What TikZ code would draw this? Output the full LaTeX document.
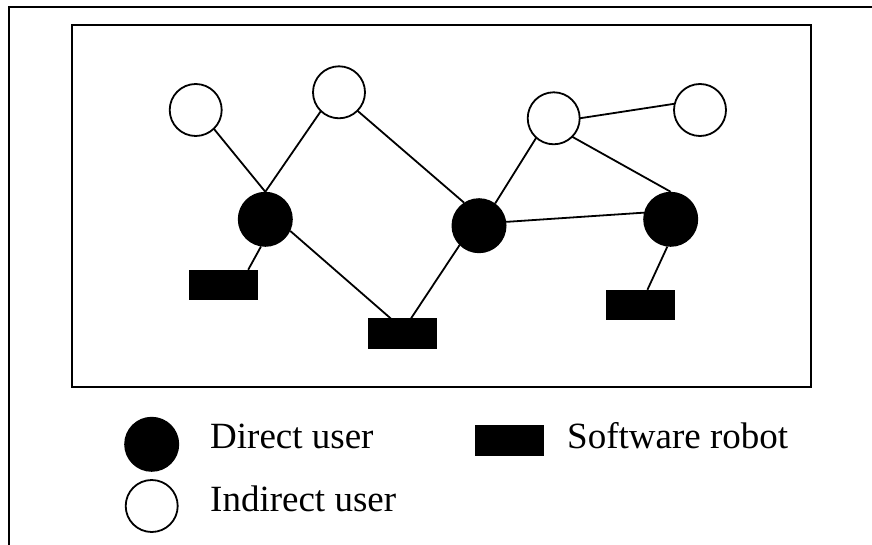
\documentclass[tikz,border=0pt]{standalone}
\usepackage{fontspec}
\setmainfont{Liberation Serif}
\begin{document}
\begin{tikzpicture}[x=1pt,y=-1pt,
  indirect/.style={circle,draw=black,fill=white,line width=1.8pt,minimum size=52pt,inner sep=0pt,outer sep=0pt},
  direct/.style={circle,fill=black,minimum size=55pt,inner sep=0pt,outer sep=0pt},
  robot/.style={rectangle,fill=black,minimum width=69pt,minimum height=30.5pt,inner sep=0pt,outer sep=0pt},
  link/.style={line width=1.8pt},
  frame/.style={line width=2.2pt},
  lbl/.style={anchor=base west,inner sep=0pt,font=\fontsize{37}{44}\selectfont}]
\useasboundingbox (0,0) rectangle (872,545);
% frames
\draw[frame] (872,7) -- (9,7) -- (9,545);
\draw[frame] (72,25) rectangle (811,387);
% nodes
\node[indirect] (I1) at (195.7,110) {};
\node[indirect] (I2) at (339,92.3) {};
\node[indirect] (I3) at (553.7,118.3) {};
\node[indirect] (I4) at (700,110) {};
\node[direct] (D1) at (265.3,219.3) {};
\node[direct] (D2) at (479,225.7) {};
\node[direct] (D3) at (670.7,219.3) {};
\node[robot] (R1) at (223.8,285) {};
\node[robot] (R2) at (402.2,333.7) {};
\node[robot] (R3) at (640,305) {};
% links
\draw[link] (I1.314) -- (D1.north);
\draw[link] (I2.226) -- (D1.north);
\draw[link] (D1.261) -- (R1.32);
\draw[link] (D1.335) -- (R2.127);
\draw[link] (I2.315) -- (D2.123);
\draw[link] (R2.60) -- (D2.225);
\draw[link] (D2.54) -- (I3.228);
\draw[link] (D2.8) -- (D3.166);
\draw[link] (I3.east) -- (I4.166);
\draw[link] (I3.315) -- (D3.north);
\draw[link] (D3.263) -- (R3.64);
% legend
\node[direct] (LD) at (151.7,444.3) {};
\node[indirect] (LI) at (151.7,506) {};
\node[robot,minimum width=69.5pt,minimum height=31pt] (LR) at (509.7,440.5) {};
\node[lbl] (TD) at (210,448.3) {Direct user};
\node[lbl] (TI) at (210,511.7) {Indirect user};
\node[lbl] (TR) at (567,448.3) {Software robot};
\end{tikzpicture}
\end{document}
